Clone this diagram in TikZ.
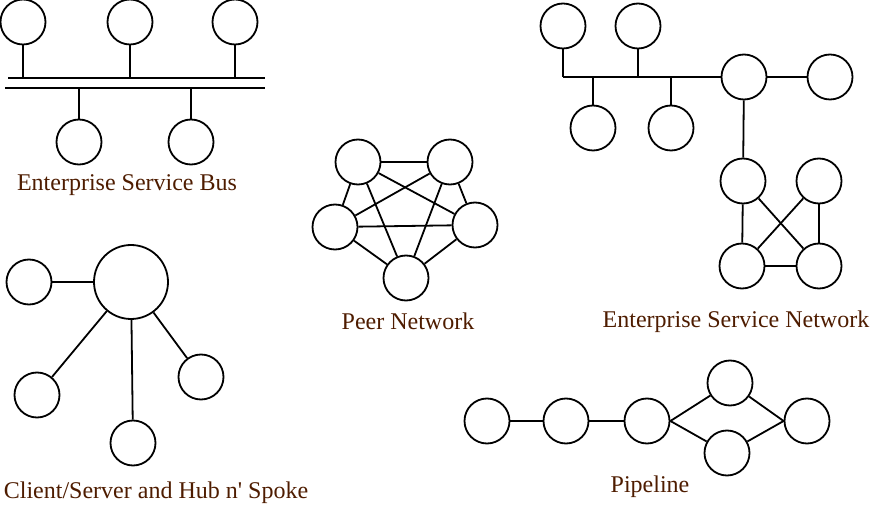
\documentclass[tikz,border=0pt]{standalone}
\usepackage{fontspec}
\setmainfont{Liberation Serif}
\usepackage{tikz}
\usetikzlibrary{positioning,calc}
\definecolor{labelbrown}{RGB}{78,28,0}

\begin{document}
\begin{tikzpicture}[x=1pt, y=-1pt, line width=1.8pt, every node/.style={font=\fontsize{24}{27}\selectfont}]
\tikzset{nd/.style={draw, circle, minimum size=45pt, inner sep=0pt}}
\tikzset{hub/.style={nd, minimum size=74pt}}
\tikzset{caption/.style={text=labelbrown, inner sep=0pt}}
\useasboundingbox (0,0) rectangle (880,510);
% enterprise service bus
\node[nd] (b1) at (23,22) {};
\node[nd] (b2) at (130,22) {};
\node[nd] (b3) at (235,22) {};
\node[nd] (b4) at (79,142) {};
\node[nd] (b5) at (191,142) {};
\coordinate (bu1) at (8,78);
\coordinate (bu2) at (265,78);
\coordinate (bl1) at (5,88);
\coordinate (bl2) at (265,88);
\draw (bu1) -- (bu2);
\draw (bl1) -- (bl2);
\foreach \n in {b1,b2,b3} \draw (\n.south) -- (\n |- bu1);
\foreach \n in {b4,b5} \draw (\n.north) -- (\n |- bl1);
\node[caption] (esb) at (127,185) {Enterprise Service Bus};
% peer network
\node[nd] (p1) at (358,162) {};
\node[nd] (p2) at (450,162) {};
\node[nd] (p3) at (335,227) {};
\node[nd] (p4) at (475,225) {};
\node[nd] (p5) at (406,278) {};
\foreach \a/\b in {p1/p2,p1/p3,p1/p4,p1/p5,p2/p3,p2/p4,p2/p5,p3/p4,p3/p5,p4/p5}
  \draw (\a) -- (\b);
\node[caption] (peer) at (408,321) {Peer Network};
% enterprise service network
\node[nd] (n1) at (563,26) {};
\node[nd] (n2) at (638,26) {};
\node[nd] (n3) at (744,77) {};
\node[nd] (n4) at (830,77) {};
\node[nd] (n5) at (593,128) {};
\node[nd] (n6) at (671,128) {};
\node[nd] (n7) at (743,181) {};
\node[nd] (n8) at (819,181) {};
\node[nd] (n9) at (742,266) {};
\node[nd] (n10) at (819,266) {};
\coordinate (nb) at (563,77);
\draw (nb) -- (n3);
\draw (n1.south) -- (nb);
\draw (n2.south) -- (n2 |- nb);
\foreach \n in {n5,n6} \draw (\n.north) -- (\n |- nb);
\draw (n3) -- (n4);
\draw (n3) -- (n7);
\draw (n7) -- (n9);
\draw (n8) -- (n10);
\draw (n9) -- (n10);
\draw (n7) -- (n10);
\draw (n8) -- (n9);
\node[caption] (esn) at (736,322) {Enterprise Service Network};
% client/server and hub n' spoke
\node[hub] (c0) at (131,282) {};
\node[nd] (c1) at (29,282) {};
\node[nd] (c2) at (37,395) {};
\node[nd] (c3) at (133,443) {};
\node[nd] (c4) at (201,377) {};
\foreach \n in {c1,c2,c3,c4} \draw (c0) -- (\n);
\node[caption] (chs) at (156,493) {Client/Server and Hub n\textquotesingle{} Spoke};
% pipeline
\node[nd] (q1) at (487,421) {};
\node[nd] (q2) at (566,421) {};
\node[nd] (q3) at (647,421) {};
\node[nd] (q4) at (730,383) {};
\node[nd] (q5) at (727,453) {};
\node[nd] (q6) at (807,421) {};
\draw (q1) -- (q2);
\draw (q2) -- (q3);
\draw (q3.east) -- (q4);
\draw (q3.east) -- (q5);
\draw (q4) -- (q6.west);
\draw (q5) -- (q6.west);
\node[caption] (pipe) at (650,487) {Pipeline};
\end{tikzpicture}
\end{document}
